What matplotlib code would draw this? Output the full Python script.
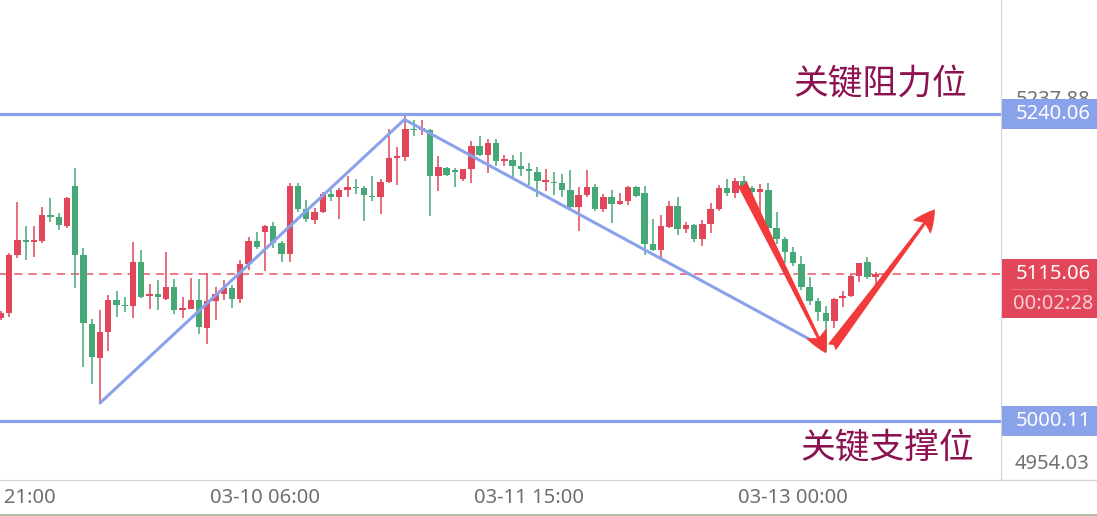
import matplotlib
matplotlib.use("Agg")
import matplotlib.pyplot as plt
from matplotlib.patches import Rectangle, FancyArrowPatch

plt.rcParams['font.family'] = ['Noto Sans', 'Noto Sans CJK SC', 'DejaVu Sans']

# hourly candles, index 0..106 (red = up, green = down)
opens = [5080.6, 5084.5, 5129.9, 5141.6, 5140.3, 5140.8, 5161.1, 5159.6, 5152.5, 5183.8,
         5129.9, 5075.9, 5049.3, 5069.7, 5094.7, 5091.2, 5090.0, 5124.4, 5098.2, 5099.4,
         5095.5, 5104.8, 5087.2, 5087.6, 5094.7, 5072.8, 5093.9, 5099.4, 5104.1, 5095.5,
         5122.8, 5140.8, 5147.8, 5152.5, 5139.2, 5130.6, 5183.8, 5165.8, 5157.2, 5163.5,
         5177.5, 5175.2, 5180.7, 5183.3, 5182.2, 5176.3, 5175.2, 5186.9, 5205.9, 5206.5,
         5228.6, 5227.5, 5227.5, 5191.6, 5197.9, 5196.3, 5189.3, 5197.1, 5215.0, 5208.0,
         5217.4, 5203.3, 5204.1, 5199.4, 5197.1, 5194.7, 5186.9, 5187.2, 5186.1, 5180.7,
         5167.4, 5176.8, 5183.0, 5165.8, 5175.2, 5169.7, 5172.1, 5183.0, 5178.3, 5138.5,
         5133.8, 5151.7, 5168.2, 5150.2, 5153.3, 5142.4, 5154.1, 5165.8, 5182.2, 5178.3,
         5187.7, 5182.2, 5179.1, 5180.7, 5151.0, 5142.4, 5132.2, 5122.8, 5104.8, 5093.9,
         5084.5, 5078.3, 5096.2, 5097.8, 5113.4, 5124.4, 5112.7]
highs = [5086.1, 5131.4, 5171.3, 5152.5, 5152.5, 5167.4, 5174.4, 5162.7, 5175.0, 5197.9,
         5135.3, 5079.8, 5086.9, 5098.6, 5101.7, 5097.0, 5140.0, 5133.8, 5107.2, 5110.3,
         5132.2, 5111.1, 5097.0, 5111.9, 5111.1, 5115.8, 5104.8, 5110.3, 5106.4, 5126.0,
         5143.9, 5147.8, 5153.0, 5155.7, 5140.8, 5186.1, 5186.1, 5172.8, 5166.6, 5179.1,
         5180.7, 5182.2, 5191.6, 5189.3, 5183.8, 5191.6, 5189.3, 5228.3, 5214.3, 5238.5,
         5235.4, 5235.4, 5228.0, 5207.2, 5198.6, 5197.9, 5197.1, 5219.0, 5222.9, 5220.5,
         5220.5, 5208.0, 5208.0, 5210.4, 5201.8, 5198.6, 5197.1, 5194.7, 5193.2, 5196.3,
         5183.0, 5196.3, 5185.3, 5177.5, 5180.7, 5178.3, 5183.5, 5183.5, 5183.8, 5158.0,
         5161.1, 5172.1, 5175.2, 5155.7, 5153.8, 5157.2, 5170.5, 5184.6, 5189.3, 5190.0,
         5191.6, 5183.8, 5185.3, 5186.1, 5163.5, 5143.9, 5136.1, 5129.1, 5112.7, 5096.2,
         5090.0, 5096.0, 5101.7, 5115.0, 5124.0, 5128.3, 5116.6]
lows = [5079.1, 5081.4, 5127.5, 5126.0, 5128.3, 5139.2, 5155.7, 5149.4, 5151.0, 5104.1,
        5042.3, 5029.0, 5014.2, 5054.8, 5081.4, 5085.3, 5080.6, 5096.2, 5087.6, 5086.9,
        5095.0, 5083.7, 5080.6, 5087.3, 5068.1, 5060.3, 5079.1, 5094.7, 5088.4, 5092.3,
        5118.1, 5134.5, 5117.4, 5135.3, 5124.4, 5124.4, 5163.5, 5155.7, 5154.1, 5163.0,
        5172.1, 5158.0, 5175.2, 5177.5, 5156.4, 5172.1, 5161.9, 5186.1, 5184.6, 5203.3,
        5222.9, 5223.7, 5160.3, 5179.9, 5191.6, 5183.0, 5187.7, 5186.1, 5207.5, 5193.9,
        5199.4, 5199.4, 5190.8, 5191.6, 5184.6, 5175.2, 5179.9, 5176.8, 5175.2, 5166.6,
        5148.6, 5175.2, 5164.2, 5163.5, 5154.9, 5168.9, 5168.9, 5175.2, 5129.9, 5133.0,
        5126.0, 5151.0, 5145.5, 5147.1, 5140.0, 5136.9, 5147.1, 5164.2, 5176.0, 5174.4,
        5182.0, 5173.6, 5163.5, 5147.1, 5138.5, 5123.6, 5121.3, 5102.5, 5090.8, 5078.3,
        5054.0, 5072.8, 5089.2, 5097.3, 5108.8, 5111.1, 5106.4]
closes = [5084.5, 5129.9, 5141.6, 5140.8, 5141.0, 5161.1, 5160.5, 5153.3, 5174.4, 5129.9,
          5076.7, 5050.1, 5069.7, 5094.7, 5090.8, 5090.6, 5124.4, 5097.0, 5098.8, 5097.0,
          5104.8, 5086.9, 5087.8, 5094.7, 5073.6, 5093.9, 5099.4, 5104.1, 5095.5, 5122.8,
          5140.8, 5136.1, 5152.5, 5139.2, 5130.6, 5183.8, 5165.8, 5158.0, 5163.5, 5177.5,
          5175.2, 5180.7, 5183.0, 5182.8, 5176.8, 5175.8, 5186.9, 5205.7, 5206.5, 5228.3,
          5228.0, 5229.1, 5191.6, 5198.6, 5192.4, 5194.7, 5197.1, 5215.0, 5208.0, 5217.4,
          5203.3, 5204.9, 5199.4, 5197.1, 5195.5, 5187.7, 5188.5, 5186.6, 5180.7, 5167.4,
          5176.8, 5183.0, 5165.8, 5175.2, 5169.7, 5172.1, 5183.0, 5176.0, 5138.5, 5133.8,
          5152.5, 5168.2, 5150.2, 5153.3, 5142.4, 5154.1, 5165.8, 5182.2, 5178.3, 5187.7,
          5182.2, 5179.1, 5181.4, 5151.0, 5142.4, 5132.2, 5123.6, 5104.8, 5093.9, 5085.3,
          5078.3, 5095.5, 5097.8, 5113.4, 5123.6, 5112.7, 5115.06]

tick_pos = [0, 32, 64, 96]
tick_labels = ['03-08 21:00', '03-10 06:00', '03-11 15:00', '03-13 00:00']

resistance = 5240.06
support = 5000.11
last_price = 5115.06
countdown = '00:02:28'
axis_top_label = '5237.88'
axis_bottom_label = '4954.03'

# hand-drawn trend lines (index, price)
trend_x = [12, 48.9, 99.8]
trend_y = [5014.2, 5235.8, 5057.7]
arrow1 = [(89.8, 5186.1), (100.0, 5053.0)]
arrow2 = [(100.7, 5057.7), (113.2, 5165.6)]

UP = '#e2465a'
DOWN = '#46a876'
BLUE = '#8aa2ea'
GRID = '#d4d4e0'

W, H = 1097, 516
fig = plt.figure(figsize=(W / 100, H / 100), dpi=100)
ax = fig.add_axes([0, 36 / H, 1001 / W, 480 / H])
ax.set_xlim(-0.12, 121.2)
ax.set_ylim(4954.03, 5329.2)

idx = list(range(len(opens)))
colors = [UP if c >= o else DOWN for o, c in zip(opens, closes)]
ax.vlines(idx, lows, highs, colors=colors, linewidth=1.1, zorder=2)
heights = [c - o if abs(c - o) > 1.2 else (1.2 if c >= o else -1.2) for o, c in zip(opens, closes)]
ax.bar(idx, heights, bottom=opens, width=0.78, color=colors, linewidth=0, zorder=2)

ax.axhline(resistance, color=BLUE, lw=2.3, zorder=3)
ax.axhline(support, color=BLUE, lw=2.3, zorder=3)
ax.axhline(last_price, color='#e8475a', lw=1.2, ls=(0, (5, 3.5)), alpha=0.85, zorder=1)
ax.plot(trend_x, trend_y, color=BLUE, lw=2.2, solid_capstyle='round', zorder=3)

for a in (arrow1, arrow2):
    ax.add_patch(FancyArrowPatch(a[0], a[1], arrowstyle='fancy,head_length=1.0,head_width=1.0,tail_width=0.45',
                                 mutation_scale=16, color='#f23a3a', lw=0, shrinkA=0, shrinkB=0, zorder=4))

ax.text(106.6, 5262.7, '关键阻力位', fontsize=25, color='#8c1150', ha='center', va='center',
        family=['Noto Sans CJK SC'])
ax.text(107.4, 4978.2, '关键支撑位', fontsize=25, color='#8c1150', ha='center', va='center',
        family=['Noto Sans CJK SC'])

ax.set_xticks(tick_pos)
ax.set_xticklabels(tick_labels, fontsize=14.5, color='#6e6e6e')
ax.tick_params(axis='x', length=0, pad=6)
ax.set_yticks([])
for s in ('top', 'left'):
    ax.spines[s].set_visible(False)
ax.spines['right'].set_color(GRID)
ax.spines['bottom'].set_color(GRID)

# price axis on the right
ax2 = fig.add_axes([1001 / W, 36 / H, 96 / W, 480 / H])
ax2.set_xlim(0, 1)
ax2.set_ylim(ax.get_ylim())
ax2.axis('off')
bh = 11.6
fs = 14.5
ax2.text(0.54, 5251.0, axis_top_label, fontsize=fs, color='#707070', ha='center', va='center')
ax2.text(0.53, 4966.5, axis_bottom_label, fontsize=fs, color='#707070', ha='center', va='center')
for price, col in ((resistance, BLUE), (support, BLUE), (last_price, '#e2465a')):
    ax2.add_patch(Rectangle((0.01, price - bh), 0.99, 2 * bh, color=col, lw=0, zorder=3))
    ax2.text(0.54, price, f'{price:.2f}', fontsize=fs, color='white', ha='center', va='center', zorder=4)
ax2.add_patch(Rectangle((0.01, last_price - 3 * bh), 0.99, 2 * bh, color='#e2465a', lw=0, zorder=3))
ax2.axhline(last_price - bh, xmin=0.1, xmax=0.9, color='#ea7a86', lw=0.6, zorder=4)
ax2.text(0.54, last_price - 2 * bh, countdown, fontsize=fs, color='#f8d0d5', ha='center', va='center', zorder=4)

# bottom rule across the price axis and thin page border
fig.add_artist(plt.Line2D([1001 / W, 1], [36 / H, 36 / H], color=GRID, lw=1))
fig.add_artist(Rectangle((0, 0), 1, 2.5 / H, color='#b3bba6', lw=0, transform=fig.transFigure))

fig.savefig('out.png', dpi=100)
